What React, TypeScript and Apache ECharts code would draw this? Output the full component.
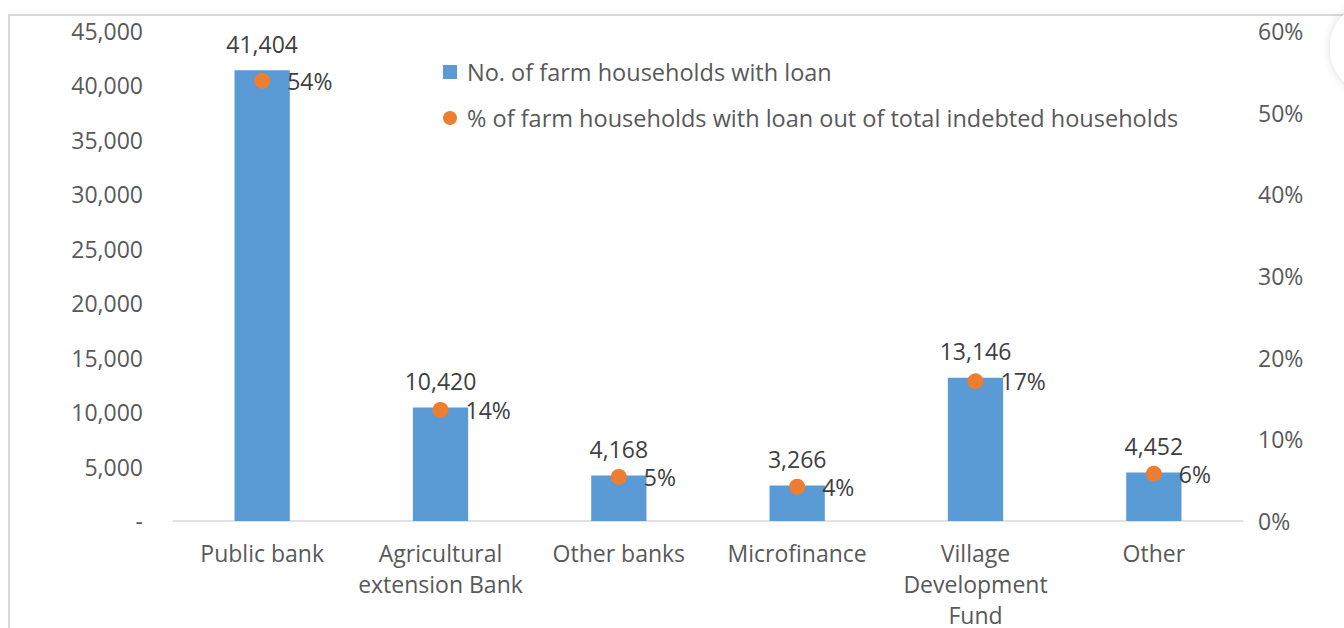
import React, { useEffect, useRef } from "react";
import * as echarts from "echarts";

const categories = [
  "Public bank",
  "Agricultural\nextension Bank",
  "Other banks",
  "Microfinance",
  "Village\nDevelopment\nFund",
  "Other",
];
const households = [41404, 10420, 4168, 3266, 13146, 4452];
const sharePct = [53.9, 13.6, 5.4, 4.2, 17.1, 5.8];
const leftTicks = { min: 0, max: 45000, interval: 5000 };
const rightTicks = { min: 0, max: 60, interval: 10 };
const barName = "No. of farm households with loan";
const dotName = "% of farm households with loan out of total indebted households";

const FONT = "'Open Sans', 'Noto Sans', sans-serif";
const TXT = "#595959";
const FS = 23;

export default function App() {
  const ref = useRef<HTMLDivElement>(null);
  useEffect(() => {
    if (!ref.current) return;
    const chart = echarts.init(ref.current, undefined, { renderer: "svg" });
    chart.setOption({
      animation: false,
      backgroundColor: "#ffffff",
      textStyle: { fontFamily: FONT, color: TXT },
      grid: {
        left: 173,
        width: 1070,
        top: 31,
        height: 490,
        containLabel: false,
        outerBoundsMode: "none",
      },
      legend: {
        orient: "vertical",
        left: 438,
        top: 55,
        itemGap: 22,
        itemWidth: 14,
        itemHeight: 14,
        textStyle: {
          fontFamily: FONT,
          fontSize: 23.5,
          color: TXT,
          padding: [0, 0, 0, 5],
        },
        data: [
          { name: barName, icon: "rect" },
          { name: dotName, icon: "circle" },
        ],
      },
      xAxis: {
        type: "category",
        data: categories,
        axisLine: { lineStyle: { color: "#d9d9d9", width: 1.5 } },
        axisTick: { show: false },
        axisLabel: {
          fontFamily: FONT,
          fontSize: FS,
          color: TXT,
          margin: 16,
          lineHeight: 31,
          interval: 0,
        },
      },
      yAxis: [
        {
          type: "value",
          ...leftTicks,
          axisLine: { show: false },
          axisTick: { show: false },
          splitLine: { show: false },
          axisLabel: {
            fontFamily: FONT,
            fontSize: FS,
            color: TXT,
            margin: 30,
            formatter: (v: number) => (v === 0 ? "-" : v.toLocaleString("en-US")),
          },
        },
        {
          type: "value",
          ...rightTicks,
          axisLine: { show: false },
          axisTick: { show: false },
          splitLine: { show: false },
          axisLabel: {
            fontFamily: FONT,
            fontSize: FS,
            color: TXT,
            margin: 15,
            formatter: (v: number) => `${v}%`,
          },
        },
      ],
      series: [
        {
          name: barName,
          type: "bar",
          data: households,
          barWidth: "31%",
          itemStyle: { color: "#5B9BD5" },
          label: {
            show: true,
            position: "top",
            distance: 15,
            fontFamily: FONT,
            fontSize: FS,
            color: "#404040",
            formatter: (p: any) => Number(p.value).toLocaleString("en-US"),
          },
        },
        {
          name: dotName,
          type: "scatter",
          yAxisIndex: 1,
          data: sharePct,
          symbol: "circle",
          symbolSize: 16,
          itemStyle: { color: "#ED7D31", opacity: 1 },
          label: {
            show: true,
            position: "right",
            distance: 17,
            fontFamily: FONT,
            fontSize: FS,
            color: "#404040",
            formatter: (p: any) => `${Math.round(p.value)}%`,
          },
          z: 5,
        },
      ],
      graphic: [
        {
          type: "rect",
          shape: { x: 9, y: 15, width: 1400, height: 700 },
          style: { fill: "none", stroke: "#d9d9d9", lineWidth: 2 },
          silent: true,
          z: -1,
        },
        {
          type: "circle",
          shape: { cx: 1378, cy: 48, r: 48 },
          style: {
            fill: "#ffffff",
            shadowBlur: 8,
            shadowColor: "rgba(0,0,0,0.15)",
          },
          silent: true,
        },
      ],
    });
    return () => chart.dispose();
  }, []);
  return (
    <div
      ref={ref}
      style={{ position: "fixed", left: 0, top: 0, width: 1344, height: 628 }}
    />
  );
}
